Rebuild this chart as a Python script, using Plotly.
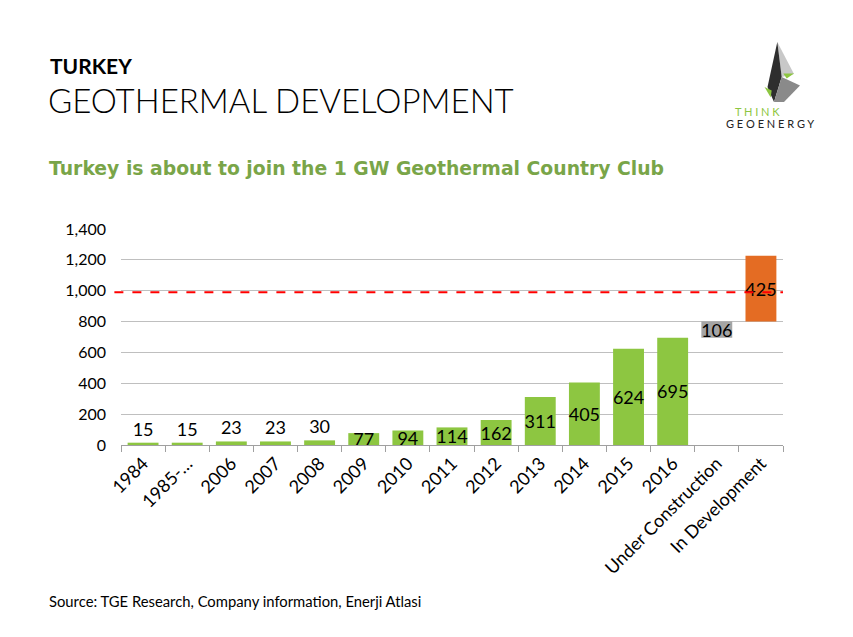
import plotly.graph_objects as go

categories = ["1984", "1985-…", "2006", "2007", "2008", "2009", "2010", "2011",
              "2012", "2013", "2014", "2015", "2016", "Under Construction", "In Development"]
capacity_mw = [15, 15, 23, 23, 30, 77, 94, 114, 162, 311, 405, 624, 695, 106, 425]
bar_base = [0] * 13 + [695, 801]
bar_colors = ["#8DC641"] * 13 + ["#A5A5A5", "#E46C23"]
label_positions = ["outside"] * 5 + ["inside"] * 10
threshold_mw = 990
y_ticks = [0, 200, 400, 600, 800, 1000, 1200, 1400]

OFF = 8  # page body margin
W, H = 853, 637
L, R, T, B = 121 - OFF, 78, 229 - OFF, 200
PW, PH = W - L - R, H - T - B


def px(x, y):
    return (x - OFF - L) / PW, (H - B - (y - OFF)) / PH


fig = go.Figure()
fig.add_trace(go.Bar(
    x=categories, y=capacity_mw, base=bar_base,
    marker=dict(color=bar_colors, line=dict(width=0)),
    width=0.7,
    text=[str(v) for v in capacity_mw],
    textposition=label_positions,
    textangle=0,
    constraintext="none",
    textfont=dict(family="Lato", size=18, color="black"),
    insidetextanchor="middle",
    cliponaxis=False,
    hoverinfo="skip",
))

fig.add_shape(type="line", xref="paper", yref="y", x0=-0.01, x1=1.0,
              y0=threshold_mw, y1=threshold_mw,
              line=dict(color="#FF0000", width=2, dash="dash"))

# logo
def poly(points, color):
    pts = [px(x, y) for x, y in points]
    path = "M " + " L ".join(f"{a:.4f},{b:.4f}" for a, b in pts) + " Z"
    fig.add_shape(type="path", xref="paper", yref="paper", path=path,
                  fillcolor=color, line=dict(width=0), layer="above")

poly([(777.3, 42), (794, 74), (781.7, 77)], "#C8C8C8")
poly([(777.3, 42), (767.5, 87), (774, 102), (781.7, 77)], "#2E2E2E")
poly([(781.7, 77), (800, 85.5), (784, 102), (774, 102)], "#8A8A8A")
poly([(783.3, 73.6), (794, 73.6), (786.7, 78.5)], "#8DC641")
poly([(764.5, 87), (771.7, 90.5), (770.7, 97.5)], "#8DC641")

annotations = [
    dict(text="<b>TURKEY</b>", x=48, y=65, size=21, color="black", family="Lato"),
    dict(text="GEOTHERMAL DEVELOPMENT", x=46, y=100, size=33, color="black", family="Lato", weight=300),
    dict(text="<b>Turkey is about to join the 1 GW Geothermal Country Club</b>", x=47, y=168,
         size=18.8, color="#79A548", family="DejaVu Sans"),
    dict(text="Source: TGE Research, Company information, Enerji Atlasi", x=47, y=601,
         size=14.8, color="black", family="Lato"),
    dict(text="T H I N K", x=733, y=112, size=11, color="#8DC641", family="Lato"),
    dict(text="G E O E N E R G Y", x=724, y=124, size=11,
         color="#222222", family="Lato"),
]
for a in annotations:
    ax, ay = px(a["x"], a["y"])
    fig.add_annotation(text=a["text"], xref="paper", yref="paper", x=ax, y=ay,
                       xanchor="left", yanchor="middle", showarrow=False,
                       font=dict(size=a["size"], color=a["color"], family=a["family"],
                                 weight=a.get("weight", "normal")))

fig.update_layout(
    width=W, height=H,
    margin=dict(l=L, r=R, t=T, b=B),
    plot_bgcolor="white", paper_bgcolor="white",
    showlegend=False,
    bargap=0.3,
    font=dict(family="Lato", color="black"),
)
fig.update_yaxes(range=[0, 1400], tickvals=y_ticks, tickformat=",",
                 showgrid=True, gridcolor="#BFBFBF", gridwidth=1,
                 zeroline=False, showline=False, ticks="",
                 tickfont=dict(size=16, family="Lato", color="black"), ticklabelstandoff=14)
fig.update_xaxes(showline=True, linecolor="#A0A0A0", linewidth=1,
                 ticks="outside", tickson="boundaries", ticklen=6, tickcolor="#A0A0A0",
                 tickangle=-45, tickfont=dict(size=18, family="Lato", color="black"),
                 showgrid=False)

fig.write_html("out.html")
